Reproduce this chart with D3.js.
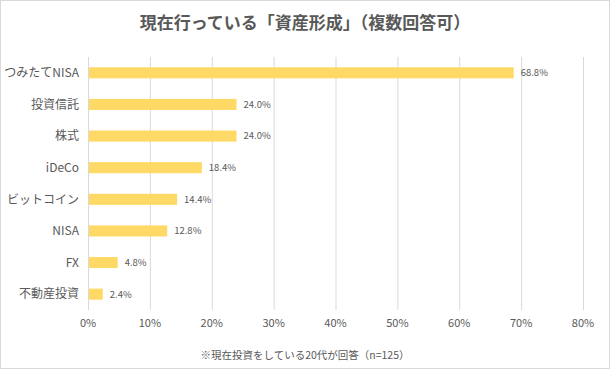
<!DOCTYPE html>
<html><head><meta charset="utf-8">
<script src="https://cdn.jsdelivr.net/npm/d3@7"></script>
<style>
body{margin:0;background:#fff;}
text{font-family:"Noto Sans CJK JP","Noto Sans",sans-serif;}
</style></head>
<body>
<svg id="c" width="610" height="369"></svg>
<script>
const categories = ["つみたてNISA","投資信託","株式","iDeCo","ビットコイン","NISA","FX","不動産投資"];
const values = [68.8,24.0,24.0,18.4,14.4,12.8,4.8,2.4];
const ticks = [0,10,20,30,40,50,60,70,80];
const title = "現在行っている「資産形成」（複数回答可）";
const note = "※現在投資をしている20代が回答（n=125）";

const svg = d3.select("#c");
const W=610,H=369;
svg.append("rect").attr("x",0.5).attr("y",0.5).attr("width",W-1).attr("height",H-1)
  .attr("fill","#fff").attr("stroke","#d9d9d9");

const x = d3.scaleLinear().domain([0,80]).range([88,583]);
const y = d3.scaleBand().domain(categories).range([57,310]).paddingInner(0.65).paddingOuter(0.325);

svg.append("g").selectAll("line").data(ticks).join("line")
  .attr("x1",d=>x(d)+0.5).attr("x2",d=>x(d)+0.5).attr("y1",57).attr("y2",310)
  .attr("stroke","#d9d9d9").attr("stroke-width",1);

svg.append("g").selectAll("rect").data(values).join("rect")
  .attr("x",x(0)+1).attr("y",(d,i)=>y(categories[i]))
  .attr("width",d=>x(d)-x(0)-1).attr("height",y.bandwidth())
  .attr("fill","#FFD966");

svg.append("g").selectAll("text").data(values).join("text")
  .attr("x",d=>x(d)+7).attr("y",(d,i)=>y(categories[i])+y.bandwidth()/2)
  .attr("dy","0.35em").attr("font-size",9.5).attr("fill","#595959")
  .text(d=>d.toFixed(1)+"%");

svg.append("g").selectAll("text").data(categories).join("text")
  .attr("x",79).attr("y",d=>y(d)+y.bandwidth()/2).attr("dy","0.35em")
  .attr("text-anchor","end").attr("font-size",12).attr("fill","#595959").text(d=>d);

svg.append("g").selectAll("text").data(ticks).join("text")
  .attr("x",d=>x(d)).attr("y",327).attr("text-anchor","middle")
  .attr("font-size",11).attr("fill","#595959").text(d=>d+"%");

svg.append("text").attr("x",305).attr("y",29).attr("text-anchor","middle")
  .attr("font-size",17).attr("font-weight","bold").attr("fill","#595959").text(title);

svg.append("text").attr("x",305).attr("y",359).attr("text-anchor","middle")
  .attr("font-size",10.5).attr("fill","#595959").text(note);
</script>
</body></html>
